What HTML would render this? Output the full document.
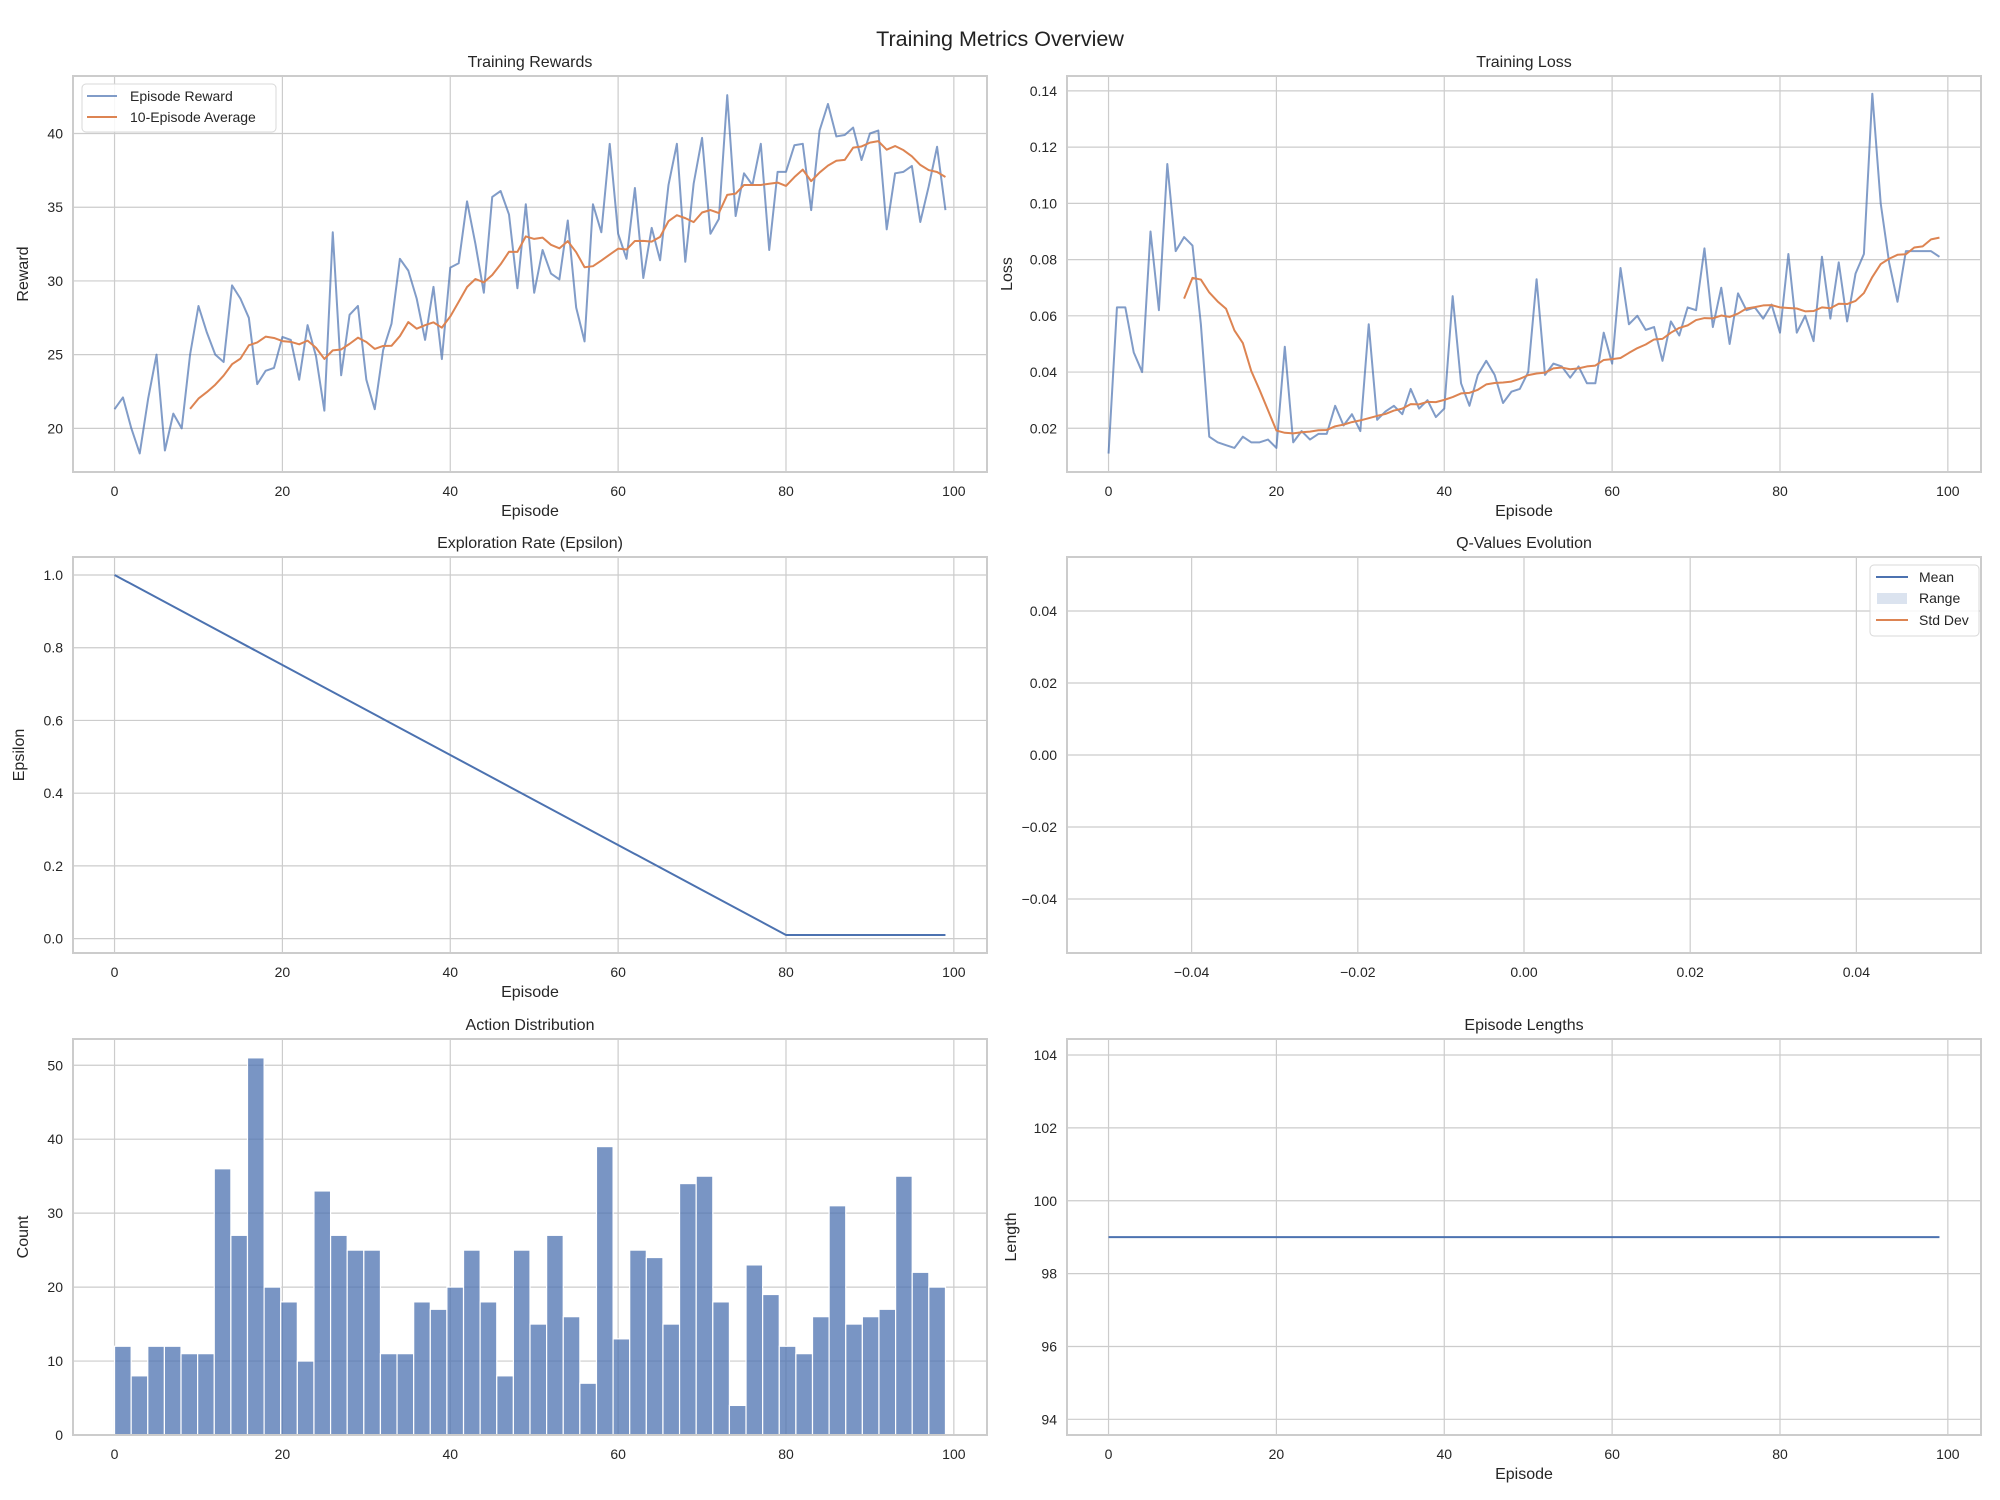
<!DOCTYPE html>
<html><head><meta charset="utf-8">
<style>
html,body{margin:0;padding:0;background:#fff;}
svg{display:block;font-family:"Liberation Sans",Arial,sans-serif;}
</style></head>
<body>
<svg id="fig" width="2000" height="1500" viewBox="0 0 2000 1500" xmlns="http://www.w3.org/2000/svg">
<rect width="2000" height="1500" fill="#fff"/>
<text x="1000" y="46" font-size="21.5" text-anchor="middle" fill="#222">Training Metrics Overview</text>
</svg>
<script>
const episodes = Array.from({length:100},(_,i)=>i);
const rewardValues = [21.3,22.1,20.0,18.3,22.0,25.0,18.5,21.0,20.0,25.0,
28.3,26.5,25.0,24.5,29.7,28.8,27.5,23.0,23.9,24.1,
26.2,26.0,23.3,27.0,24.9,21.2,33.3,23.6,27.7,28.3,
23.3,21.3,25.3,27.1,31.5,30.7,28.8,26.0,29.6,24.7,
30.9,31.2,35.4,32.5,29.2,35.7,36.1,34.5,29.5,35.2,
29.2,32.1,30.5,30.1,34.1,28.2,25.9,35.2,33.3,39.3,
33.2,31.5,36.3,30.2,33.6,31.4,36.5,39.3,31.3,36.6,
39.7,33.2,34.2,42.6,34.4,37.3,36.5,39.3,32.1,37.4,
37.4,39.2,39.3,34.8,40.2,42.0,39.8,39.9,40.4,38.2,
40.0,40.2,33.5,37.3,37.4,37.8,34.0,36.4,39.1,34.8];
const lossValues = [0.011,0.063,0.063,0.047,0.040,0.090,0.062,0.114,0.083,0.088,
0.085,0.057,0.017,0.015,0.014,0.013,0.017,0.015,0.015,0.016,
0.013,0.049,0.015,0.019,0.016,0.018,0.018,0.028,0.021,0.025,
0.019,0.057,0.023,0.026,0.028,0.025,0.034,0.027,0.030,0.024,
0.027,0.067,0.036,0.028,0.039,0.044,0.039,0.029,0.033,0.034,
0.040,0.073,0.039,0.043,0.042,0.038,0.042,0.036,0.036,0.054,
0.043,0.077,0.057,0.060,0.055,0.056,0.044,0.058,0.053,0.063,
0.062,0.084,0.056,0.070,0.050,0.068,0.062,0.063,0.059,0.064,
0.054,0.082,0.054,0.060,0.051,0.081,0.059,0.079,0.058,0.075,
0.082,0.139,0.100,0.079,0.065,0.083,0.083,0.083,0.083,0.081];
const epsilonEpisodes = [0,80,99];
const epsilonValues = [1.0,0.01,0.01];
const actionCounts = [12,8,12,12,11,11,36,27,51,20,18,10,33,27,25,25,11,11,18,17,20,25,18,8,25,15,27,16,7,39,13,25,24,15,34,35,18,4,23,19,12,11,16,31,15,16,17,35,22,20];
const lengthValues = [99,99,99,99,99,99,99,99,99,99,99,99,99,99,99,99,99,99,99,99,
99,99,99,99,99,99,99,99,99,99,99,99,99,99,99,99,99,99,99,99,
99,99,99,99,99,99,99,99,99,99,99,99,99,99,99,99,99,99,99,99,
99,99,99,99,99,99,99,99,99,99,99,99,99,99,99,99,99,99,99,99,
99,99,99,99,99,99,99,99,99,99,99,99,99,99,99,99,99,99,99,99];
const episodeTicks = [0,20,40,60,80,100];
const rewardTicks = [20,25,30,35,40];
const lossTicks = [0.02,0.04,0.06,0.08,0.10,0.12,0.14];
const epsilonTicks = [0.0,0.2,0.4,0.6,0.8,1.0];
const qTicks = [-0.04,-0.02,0.00,0.02,0.04];
const countTicks = [0,10,20,30,40,50];
const lengthTicks = [94,96,98,100,102,104];

const NS="http://www.w3.org/2000/svg";
const fig=document.getElementById('fig');
function el(tag,attrs,parent){const e=document.createElementNS(NS,tag);for(const k in attrs)e.setAttribute(k,attrs[k]);(parent||fig).appendChild(e);return e;}
function txt(s,attrs,parent){const e=el('text',attrs,parent);e.textContent=s;return e;}

function makeAxes(name,x0,y0,w,h,xlim,ylim){
  const g=el('g',{});
  
  
  const ax={g,x0,y0,w,h,
    sx:v=>x0+(v-xlim[0])/(xlim[1]-xlim[0])*w,
    sy:v=>y0+h-(v-ylim[0])/(ylim[1]-ylim[0])*h};
  return ax;
}
function drawFrame(ax,title,xticks,xfmt,yticks,yfmt,xlabel,ylabel){
  const g=ax.g;
  xticks.forEach(t=>{const x=ax.sx(t);
    const l=el('line',{x1:x,x2:x,y1:ax.y0,y2:ax.y0+ax.h,stroke:'#cccccc','stroke-width':1.2},g);
    
    const t2=txt(xfmt(t),{x:x,y:ax.y0+ax.h+24,'font-size':14,'text-anchor':'middle',fill:'#262626'},g);
    });
  yticks.forEach(t=>{const y=ax.sy(t);
    const l=el('line',{x1:ax.x0,x2:ax.x0+ax.w,y1:y,y2:y,stroke:'#cccccc','stroke-width':1.2},g);
    
    const t2=txt(yfmt(t),{x:ax.x0-10,y:y+5,'font-size':14,'text-anchor':'end',fill:'#262626'},g);
    });
  const tt=txt(title,{x:ax.x0+ax.w/2,y:ax.y0-9,'font-size':16,'text-anchor':'middle',fill:'#262626'},g);
  
  if(xlabel){const xl=txt(xlabel,{x:ax.x0+ax.w/2,y:ax.y0+ax.h+44,'font-size':16,'text-anchor':'middle',fill:'#262626'},g);
    }
  if(ylabel){const cx=ax.x0-ylabel.off, cy=ax.y0+ax.h/2;
    const yl=txt(ylabel.t,{x:cx,y:cy,'font-size':16,'text-anchor':'middle',fill:'#262626',transform:`rotate(-90 ${cx} ${cy})`},g);
    }
}
function drawSpines(ax){
  const r=el('rect',{x:ax.x0,y:ax.y0,width:ax.w,height:ax.h,fill:'none',stroke:'#cccccc','stroke-width':2},ax.g);
  
}
function line(ax,xs,ys,color,opacity,width,name){
  const d=xs.map((x,i)=>(i?'L':'M')+ax.sx(x).toFixed(2)+' '+ax.sy(ys[i]).toFixed(2)).join(' ');
  const p=el('path',{d,fill:'none',stroke:color,'stroke-opacity':opacity,'stroke-width':width,'stroke-linejoin':'round'},ax.g);
  
}
const fmtInt=v=>String(v);
const fmt2=v=>(v<0?'\u2212':'')+Math.abs(v).toFixed(2);
const fmt1=v=>v.toFixed(1);
const XL=[-4.95,103.95];
const LX=73,RX=1067,W=914,H=396,R1=76,R2=557,R3=1039;
const BLUE='#4c72b0',ORANGE='#dd8452';

// 1 Rewards
const a1=makeAxes('rewards-chart',LX,R1,W,H,XL,[17.04,43.9]);
drawFrame(a1,'Training Rewards',episodeTicks,fmtInt,rewardTicks,fmtInt,'Episode',{t:'Reward',off:45});
line(a1,episodes,rewardValues,BLUE,0.7,2,'episode-reward-line');
const avgX=[],avgY=[];
for(let i=9;i<rewardValues.length;i++){let s=0;for(let j=i-9;j<=i;j++)s+=rewardValues[j];avgX.push(episodes[i]);avgY.push(s/10);}
line(a1,avgX,avgY,ORANGE,1,2,'reward-average-line');
drawSpines(a1);
{const lg=el('g',{},a1.g);
 el('rect',{x:82,y:84,width:194,height:48,rx:4,fill:'#fff','fill-opacity':0.85,stroke:'#d8d8d8'},lg);
 el('line',{x1:87,x2:117,y1:96,y2:96,stroke:BLUE,'stroke-opacity':0.7,'stroke-width':2},lg);
 const t1=txt('Episode Reward',{x:130,y:101,'font-size':14,fill:'#262626'},lg);
 el('line',{x1:87,x2:117,y1:117,y2:117,stroke:ORANGE,'stroke-width':2},lg);
 const t2=txt('10-Episode Average',{x:130,y:122,'font-size':14,fill:'#262626'},lg);}

// 2 Loss
const a2=makeAxes('loss-chart',RX,R1,W,H,XL,[0.00445,0.1453]);
drawFrame(a2,'Training Loss',episodeTicks,fmtInt,lossTicks,fmt2,'Episode',{t:'Loss',off:55});
line(a2,episodes,lossValues,BLUE,0.7,2,'loss-line');
const lavX=[],lavY=[];
for(let i=9;i<lossValues.length;i++){let s=0;for(let j=i-9;j<=i;j++)s+=lossValues[j];lavX.push(episodes[i]);lavY.push(s/10);}
line(a2,lavX,lavY,ORANGE,1,2,'loss-average-line');
drawSpines(a2);

// 3 Epsilon
const a3=makeAxes('epsilon-chart',LX,R2,W,H,XL,[-0.0395,1.0495]);
drawFrame(a3,'Exploration Rate (Epsilon)',episodeTicks,fmtInt,epsilonTicks,fmt1,'Episode',{t:'Epsilon',off:49});
line(a3,epsilonEpisodes,epsilonValues,BLUE,1,2,'epsilon-line');
drawSpines(a3);

// 4 Q-values
const a4=makeAxes('q-values-chart',RX,R2,W,H,[-0.055,0.055],[-0.055,0.055]);
drawFrame(a4,'Q-Values Evolution',qTicks,fmt2,qTicks,fmt2,null,null);
drawSpines(a4);
{const lg=el('g',{},a4.g);
 el('rect',{x:1870,y:565,width:109,height:71,rx:4,fill:'#fff','fill-opacity':0.85,stroke:'#d8d8d8'},lg);
 el('line',{x1:1876,x2:1908,y1:577,y2:577,stroke:BLUE,'stroke-width':2},lg);
 const t1=txt('Mean',{x:1919,y:582,'font-size':14,fill:'#262626'},lg);
 el('rect',{x:1877,y:593,width:30,height:11,fill:BLUE,'fill-opacity':0.2},lg);
 const t2=txt('Range',{x:1919,y:603,'font-size':14,fill:'#262626'},lg);
 el('line',{x1:1876,x2:1908,y1:620,y2:620,stroke:ORANGE,'stroke-width':2},lg);
 const t3=txt('Std Dev',{x:1919,y:625,'font-size':14,fill:'#262626'},lg);}

// 5 Action distribution
const a5=makeAxes('action-distribution-chart',LX,R3,W,H,XL,[0,53.55]);
drawFrame(a5,'Action Distribution',episodeTicks,fmtInt,countTicks,fmtInt,null,{t:'Count',off:45});
{const binW=99/actionCounts.length;
 actionCounts.forEach((c,i)=>{const xl=a5.sx(i*binW),xr=a5.sx((i+1)*binW),yt=a5.sy(c),yb=a5.sy(0);
  const b=el('rect',{x:xl,y:yt,width:xr-xl,height:yb-yt,fill:BLUE,'fill-opacity':0.75,stroke:'#fff','stroke-width':1.2},a5.g);
  
  });}
drawSpines(a5);

// 6 Episode lengths
const a6=makeAxes('episode-lengths-chart',RX,R3,W,H,XL,[93.57,104.44]);
drawFrame(a6,'Episode Lengths',episodeTicks,fmtInt,lengthTicks,fmtInt,'Episode',{t:'Length',off:51});
line(a6,episodes,lengthValues,BLUE,1,2,'episode-length-line');
drawSpines(a6);
</script>
</body></html>
